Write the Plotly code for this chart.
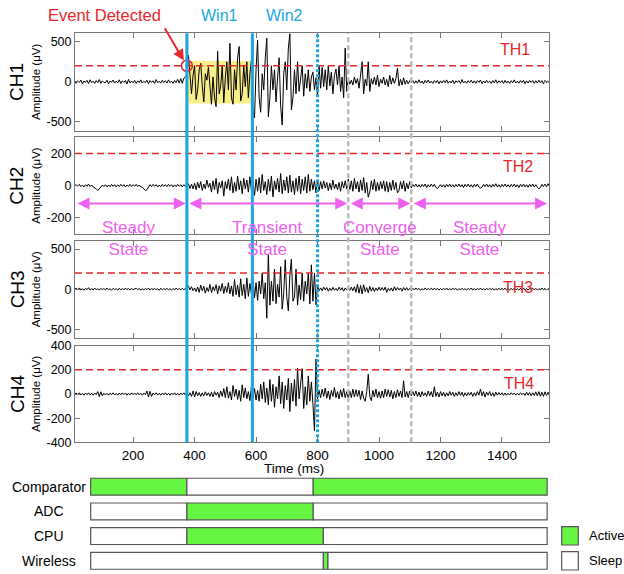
import plotly.graph_objects as go

# ---------------- data ----------------
T0 = 10   # first sample time (ms)
DT = 5    # sample spacing (ms)

ch1_rows = [
    [0,-18,14,-8,22,-25,10,-6,18,-22,25,-12,8,-20,15,-10,28,-20,12,-8],
    [-12,20,-25,10,-6,22,-16,8,-12,25,-20,12,-8,16,-28,30,-15,10,-12,18],
    [-20,12,-8,24,-16,6,-10,20,-24,16,-8,12,-20,28,-12,8,-16,20,-10,14],
    [-16,24,-12,8,-20,16,-10,30,-16,40,-20,45,60,90,330,120,-150,80,200,-220],
    [-100,150,230,-50,-250,100,20,180,-120,-280,60,-200,-310,380,-150,-50,200,-260,50,250],
    [-100,480,-200,-280,150,-100,300,440,-240,-150,200,-60,250,-200,100,270,-350,-450,150,520],
    [-200,-380,100,-100,300,545,-437,-200,200,-100,150,-250,50,300,-300,-540,100,250,-100,420],
    [600,-350,-200,150,-150,250,-120,80,200,-180,100,-80,150,-120,60,120,-100,50,-180,200],
    [-80,180,-60,150,-100,200,-50,120,-150,80,160,-40,200,-120,60,-200,420,-120,40,-30],
    [20,-40,60,-20,40,-80,100,250,-150,30,-50,250,-120,40,-30,60,-40,80,-60,30],
    [-20,60,-40,30,-60,80,-30,50,-20,40,170,-50,30,-40,50,-30,20,-25,15,-10],
    [15,-22,12,-18,25,-15,10,-25,18,-12,22,-16,8,-20,15,-10,18,-25,12,-15],
    [18,-12,24,-18,10,-15,20,-25,12,-8,16,-20,28,-15,8,-18,14,-10,20,-16],
    [12,-18,15,-8,22,-24,10,-15,18,-12,8,-20,16,-14,25,-18,12,-10,15,-20],
    [18,-15,10,-20,14,-12,24,-16,8,-18,15,-10,20,-24,12,-15,18,-8,16,-20],
    [14,-16,20,-12,15,-25,18,-10,12,-20,16,-14,10,-18,12,-10],
]
ch2_rows = [
    [0,6,-4,8,-6,4,-8,6,-4,10,-6,4,-8,-12,-20,-30,-22,-8,4,-6],
    [6,-8,4,-6,8,-4,6,-8,5,-6,8,-4,6,-8,4,-6,8,-5,6,-4],
    [8,-6,4,-8,-10,-22,-30,-25,-12,6,-6,8,-4,6,-8,4,-6,8,-5,6],
    [-6,8,-4,6,-8,5,-6,8,-4,6,-8,6,-5,-10,12,-18,10,-20,15,-25],
    [20,-15,25,-30,10,-20,35,-10,15,-40,30,-25,45,-50,20,-15,30,-65,25,-20],
    [40,-30,55,-45,20,-35,60,-25,30,-50,45,-20,35,-40,55,-30,25,-60,40,-35],
    [50,-45,70,-30,25,-55,40,-35,60,-70,30,-25,45,-40,75,-50,35,-30,55,-45],
    [65,-40,30,-55,45,-35,60,-50,40,-30,55,-45,70,-35,40,-25,30,-45,35,-30],
    [25,-20,30,-15,20,-30,15,-25,35,-20,10,-25,20,-35,25,-15,30,-20,40,-25],
    [30,-35,45,-20,25,-40,35,-30,50,-45,20,-72,-40,30,-25,40,-35,20,-30,25],
    [-20,30,-35,25,-40,20,-30,35,-25,20,-45,-30,25,-20,30,-35,15,-20,25,-15],
    [8,-6,10,-8,6,-10,8,-6,10,-12,6,-8,10,-6,8,-10,-18,-8,6,-8],
    [6,-10,8,-6,10,-8,6,-10,8,-6,10,-8,6,-12,8,-6,10,-8,6,-10],
    [8,-6,10,-8,-15,-10,8,-6,10,-8,6,-10,8,-6,12,-8,6,-10,8,-6],
    [10,-8,6,-10,8,-6,10,-8,6,-12,8,-6,10,-8,6,-10,8,-6,10,-8],
    [6,-10,-20,-12,8,-6,10,-8,12,-6,8,-10],
]
ch3_rows = [
    [0,12,-8,15,-10,6,-14,10,-6,18,-12,8,-10,14,-8,6,-12,10,-6,8],
    [-10,14,-8,6,-12,10,-6,8,-14,12,-8,6,-10,14,-6,8,-12,10,-8,6],
    [12,-8,10,-14,6,-10,8,-6,14,-12,8,-6,10,-8,6,-14,12,-10,8,-6],
    [10,-8,6,-12,8,-10,14,-6,8,-10,12,-8,10,20,40,-10,30,-20,15,-30],
    [25,-40,50,-20,35,-50,20,-30,60,-45,30,-20,55,-60,40,-25,70,-55,35,-40],
    [80,-60,40,-90,120,-70,50,-100,130,-80,60,-120,140,-90,70,-60,150,-110,80,-140],
    [100,-60,200,-120,80,-362,430,-200,100,-150,250,-180,60,-100,280,-250,-50,366,-100,-270],
    [180,375,-150,-100,250,-200,50,-130,200,-150,100,-60,200,-184,303,-150,200,-196,40,-20],
    [15,-20,25,-10,20,-25,12,-18,22,-15,10,-20,25,-12,18,-25,15,-10,20,-15],
    [25,-20,30,-40,60,-50,45,-60,55,-30,20,-45,35,-25,20,-30,15,-20,25,-15],
    [20,-15,25,-40,10,-20,15,-25,30,-15,20,-10,15,-25,20,-12,18,-15,10,-20],
    [12,-10,15,-8,10,-14,8,-12,15,-10,8,-6,12,-10,14,-8,10,-12,8,-10],
    [10,-8,14,-12,8,-10,12,-6,10,-14,8,-10,12,-8,6,-12,10,-8,14,-10],
    [8,-12,10,-8,14,-10,6,-12,10,-8,12,-6,10,-14,8,-10,12,-8,10,-6],
    [12,-10,8,-14,10,-8,12,-10,6,-12,10,-8,14,-10,8,-12,10,-6,12,-10],
    [10,-12,8,-10,14,-8,10,-12,8,-10,12,-8],
]
ch4_rows = [
    [0,8,-6,10,-8,5,-10,8,-6,10,-8,6,-10,8,-5,20,-22,18,-15,6],
    [-8,6,-10,8,-6,10,-8,5,-10,8,-6,10,-5,8,-10,6,-8,10,-6,8],
    [-6,10,-8,6,-10,8,-6,25,-25,22,-20,8,-6,10,-8,6,-10,8,-6,10],
    [-8,6,-10,8,-6,10,-8,6,-10,8,-6,10,-8,12,-15,10,-20,25,-25,20],
    [-15,12,-20,10,-15,18,-12,10,-20,15,-25,20,-10,15,-30,25,-20,45,-30,60],
    [-35,20,-50,70,-20,40,-45,30,-60,76,-30,50,-40,20,-55,60,-35,45,-50,30],
    [-60,80,-40,100,-70,50,-90,120,-60,80,-110,60,-40,150,-80,100,-120,70,-50,130],
    [-145,90,-60,120,-100,213,-40,80,210,-120,60,-90,150,-60,100,-80,-307,290,-40,30],
    [-30,40,-20,50,-35,25,-45,30,-20,55,-30,20,-40,35,-25,45,-30,20,-35,25],
    [-30,40,-25,35,-20,30,-45,25,-35,-60,20,164,-20,-55,30,-25,40,-30,20,-35],
    [25,-30,40,-20,35,-25,30,-40,20,-30,35,-20,25,-30,110,-25,20,-30,25,-15],
    [20,-15,25,-20,15,-25,20,-15,10,-20,25,-15,20,-25,60,-20,15,-25,20,-15],
    [15,-20,10,-15,20,-10,15,-20,10,-15,20,-12,15,-20,10,-15,12,-10,15,-20],
    [10,-15,20,-10,40,-15,20,-25,15,-10,20,-15,10,-20,15,-10,12,-8,10,-12],
    [8,-10,6,-8,10,-6,8,-10,6,-8,10,-6,8,-12,15,-10,12,-15,10,-12],
    [18,-15,20,-18,15,-20,18,-12,15,-10,12,-8],
]

channel_names = ["CH1", "CH2", "CH3", "CH4"]
threshold_names = ["TH1", "TH2", "TH3", "TH4"]
thresholds = [200, 200, 200, 200]
y_ranges = [[-610, 605], [-300, 300], [-605, 600], [-400, 400]]
y_tickvals = [[-500, 0, 500], [-200, 0, 200], [-500, 0, 500], [-400, -200, 0, 200, 400]]
y_ticktext = [["-500", "0", "500"], ["-200", "0", "200"], ["-500", "0", "500"],
              ["-400", "-200", "0", "200", "400"]]
time_range = [11, 1553]
time_ticks = [200, 400, 600, 800, 1000, 1200, 1400]
time_ticktext = ["200", "400", "600", "800", "1000", "1200", "1400"]

event_time = 375
window_bounds = [375, 588, 800]          # Win1 start, Win2 start, Win2 end
state_bounds = [900, 1105]               # converge start, steady start
highlight_amp = [-270, 260]              # yellow window-1 box on CH1
window_labels = ["Win1", "Win2"]
state_labels = ["Steady<br>State", "Transient<br>State", "Converge<br>State", "Steady<br>State"]
state_label_times = [184, 636, 1003, 1328]
state_spans = [[11, 375], [375, 900], [900, 1105], [1105, 1550]]

block_names = ["Comparator", "ADC", "CPU", "Wireless"]
comparator_seg = [(62, 375, "Active"), (375, 786, "Sleep"), (786, 1547, "Active")]
adc_seg = [(62, 375, "Sleep"), (375, 786, "Active"), (786, 1547, "Sleep")]
cpu_seg = [(62, 375, "Sleep"), (375, 819, "Active"), (819, 1547, "Sleep")]
wireless_seg = [(62, 819, "Sleep"), (819, 834, "Active"), (834, 1547, "Sleep")]
legend_states = ["Active", "Sleep"]

# ---------------- style ----------------
FONT = "Liberation Sans, Arial, sans-serif"
BLUE = "#1AA7E1"
RED = "#E8262B"
MAGENTA = "#F060F0"
GREEN = "#66F542"
AXC = "#777777"
state_colors = {"Active": GREEN, "Sleep": "white"}

W, H = 624, 574
def px_x(p): return p / W
def px_y(p): return 1 - p / H

X_DOM = [px_x(75), px_x(549)]
panel_px = [(33.3, 130.7), (137.3, 234.0), (241.0, 337.7), (345.7, 442.3)]

channels = [[v for row in rows for v in row] for rows in (ch1_rows, ch2_rows, ch3_rows, ch4_rows)]

fig = go.Figure()
layout = dict(template="none", width=W, height=H,
              margin=dict(l=0, r=0, t=0, b=0, pad=0, autoexpand=False),
              paper_bgcolor="white", plot_bgcolor="white", showlegend=False,
              font=dict(family=FONT, size=13, color="black"), barmode="overlay")

shapes = []
annotations = []

for i in range(4):
    n = "" if i == 0 else str(i + 1)
    top, bot = panel_px[i]
    layout["xaxis" + n] = dict(domain=X_DOM, range=time_range, anchor="y" + n,
                               tickvals=time_ticks, ticktext=time_ticktext,
                               showticklabels=(i == 3), ticks="inside", ticklen=5,
                               tickcolor=AXC, showline=True, linecolor=AXC, linewidth=1,
                               mirror="ticks", showgrid=False, zeroline=False,
                               automargin=False, tickfont=dict(size=13.5))
    layout["yaxis" + n] = dict(domain=[px_y(bot), px_y(top)], range=y_ranges[i], anchor="x" + n,
                               tickvals=y_tickvals[i], ticktext=y_ticktext[i],
                               ticks="inside", ticklen=5, tickcolor=AXC, showline=True,
                               linecolor=AXC, linewidth=1, mirror="ticks", showgrid=False,
                               zeroline=False, automargin=False, tickfont=dict(size=12.5))
    fig.add_trace(go.Scatter(x0=T0, dx=DT, y=channels[i], mode="lines",
                             line=dict(color="black", width=1),
                             xaxis="x" + n, yaxis="y" + n, hoverinfo="skip"))
    # threshold
    shapes.append(dict(type="line", xref="x" + n + " domain", x0=0, x1=1, yref="y" + n,
                       y0=thresholds[i], y1=thresholds[i],
                       line=dict(color=RED, width=1.5, dash="7px,4px")))
    mid = (top + bot) / 2
    annotations.append(dict(text=channel_names[i], xref="paper", yref="paper",
                            x=px_x(17), y=px_y(mid), textangle=-90, showarrow=False,
                            font=dict(size=19), xanchor="center", yanchor="middle"))
    annotations.append(dict(text="Amplitude (μV)", xref="paper", yref="paper",
                            x=px_x(36), y=px_y(mid), textangle=-90, showarrow=False,
                            font=dict(size=11.5), xanchor="center", yanchor="middle"))

# threshold labels
th_label_px = [(515, 50), (518, 167), (518, 287), (519, 383)]
for i, (lx, ly) in enumerate(th_label_px):
    annotations.append(dict(text=threshold_names[i], xref="paper", yref="paper",
                            x=px_x(lx), y=px_y(ly), showarrow=False,
                            font=dict(size=16, color=RED), xanchor="center", yanchor="middle"))

# yellow highlight on CH1 (window 1)
shapes.append(dict(type="rect", xref="x", yref="y", x0=window_bounds[0], x1=window_bounds[1],
                   y0=highlight_amp[0], y1=highlight_amp[1], fillcolor="#F8EE8A",
                   line=dict(width=0), layer="below"))

# vertical window / state lines
y_lo, y_hi = px_y(panel_px[3][1]), px_y(panel_px[0][0])
for t in window_bounds[:2]:
    shapes.append(dict(type="line", xref="x", yref="paper", x0=t, x1=t, y0=y_lo, y1=y_hi,
                       line=dict(color=BLUE, width=3)))
shapes.append(dict(type="line", xref="x", yref="paper", x0=window_bounds[2], x1=window_bounds[2],
                   y0=y_lo, y1=y_hi, line=dict(color=BLUE, width=3, dash="3px,2px")))
for t in state_bounds:
    shapes.append(dict(type="line", xref="x", yref="paper", x0=t, x1=t, y0=y_lo, y1=y_hi,
                       line=dict(color="#BBBBBB", width=2.5, dash="5px,3px")))

# window labels
for k, lab in enumerate(window_labels):
    annotations.append(dict(text=lab, xref="x", yref="paper",
                            x=(window_bounds[k] + window_bounds[k + 1]) / 2, y=px_y(15),
                            showarrow=False, font=dict(size=16, color=BLUE),
                            xanchor="center", yanchor="middle"))

# event detected
annotations.append(dict(text="Event Detected", xref="paper", yref="paper", x=px_x(104),
                        y=px_y(15), showarrow=False, font=dict(size=16.5, color=RED),
                        xanchor="center", yanchor="middle"))
annotations.append(dict(text="", xref="x", yref="y", x=event_time, y=thresholds[0],
                        ax=-23, ay=-39, showarrow=True, arrowhead=2, arrowsize=1.1,
                        arrowwidth=2, arrowcolor=RED, standoff=6))
fig.add_trace(go.Scatter(x=[event_time], y=[thresholds[0]], mode="markers",
                         marker=dict(symbol="circle-open", size=11, color=RED,
                                     line=dict(width=1.6, color=RED)),
                         xaxis="x", yaxis="y", hoverinfo="skip"))

# state arrows + labels on CH2
for (a, b) in state_spans:
    annotations.append(dict(text="", xref="x2", yref="y2", axref="x2", ayref="y2",
                            x=b, y=-110, ax=a, ay=-110, showarrow=True,
                            arrowhead=2, startarrowhead=2, arrowside="end+start",
                            arrowsize=1.2, startarrowsize=1.2, arrowwidth=2,
                            arrowcolor=MAGENTA, standoff=1, startstandoff=1))
for lab, t in zip(state_labels, state_label_times):
    annotations.append(dict(text=lab, xref="x2", yref="paper", x=t, y=px_y(238.5),
                            showarrow=False, font=dict(size=17, color=MAGENTA),
                            xanchor="center", yanchor="middle"))

annotations.append(dict(text="Time (ms)", xref="paper", yref="paper", x=px_x(294),
                        y=px_y(469), showarrow=False, font=dict(size=13.5),
                        xanchor="center", yanchor="middle"))

# ---------------- power-state bars ----------------
bar_top, bar_bot = 474.3, 573.2
layout["xaxis5"] = dict(domain=X_DOM, range=time_range, anchor="y5", visible=False)
layout["yaxis5"] = dict(domain=[px_y(bar_bot), px_y(bar_top)], range=[3.5, -0.5],
                        anchor="x5", visible=False)
all_segments = [comparator_seg, adc_seg, cpu_seg, wireless_seg]
for r, segs in enumerate(all_segments):
    for (s, e, st) in segs:
        fig.add_trace(go.Bar(y=[r], x=[e - s], base=[s], orientation="h", width=0.68,
                             marker=dict(color=state_colors[st], line=dict(color="#555555", width=1.2)),
                             xaxis="x5", yaxis="y5", hoverinfo="skip"))
    annotations.append(dict(text=block_names[r], xref="paper", yref="y5", x=px_x(48.5), y=r,
                            showarrow=False, font=dict(size=14), xanchor="center", yanchor="middle"))

# legend
legend_px = [(526.7, 545.0), (551.7, 570.0)]
for st, (t, b) in zip(legend_states, legend_px):
    shapes.append(dict(type="rect", xref="paper", yref="paper", x0=px_x(561.7), x1=px_x(578.3),
                       y0=px_y(b), y1=px_y(t), fillcolor=state_colors[st],
                       line=dict(color="#555555", width=1.2)))
    annotations.append(dict(text=st, xref="paper", yref="paper", x=px_x(587), y=px_y((t + b) / 2),
                            showarrow=False, font=dict(size=13), xanchor="left", yanchor="middle"))

layout["shapes"] = shapes
layout["annotations"] = annotations
fig.update_layout(**layout)
fig.write_html("out.html", config={"displayModeBar": False},
               post_script="document.body.style.margin='0px';document.body.style.overflow='hidden';")
